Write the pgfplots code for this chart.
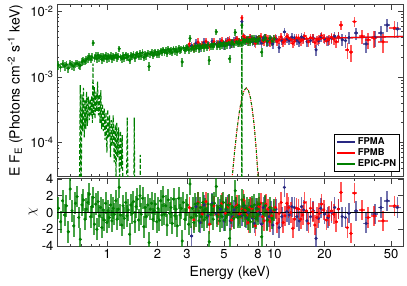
\documentclass[border=0pt]{standalone}
\usepackage{fontspec}
\setmainfont{TeX Gyre Heros}
\usepackage{pgfplots}
\usepackage{pgfplotstable}
\pgfplotsset{compat=1.18}
\definecolor{pnG}{RGB}{0,128,0}
\definecolor{fpmA}{RGB}{40,40,130}
\definecolor{fpmB}{RGB}{255,0,0}

\pgfplotstableread{
E y ey r
0.510 1.52e-3 2.2e-4 0.5
0.525 1.41e-3 2.2e-4 -1.1
0.540 1.58e-3 2.3e-4 1.4
0.555 1.47e-3 2.2e-4 -0.3
0.570 1.55e-3 2.2e-4 0.8
0.585 1.36e-3 2.2e-4 -2.3
0.600 1.60e-3 2.2e-4 2.8
0.615 1.52e-3 2.2e-4 0.2
0.630 1.46e-3 2.2e-4 -1.6
0.645 1.58e-3 2.2e-4 1.1
0.660 1.62e-3 2.2e-4 1.9
0.675 1.55e-3 2.2e-4 -0.6
0.690 1.50e-3 2.2e-4 -3.2
0.705 1.70e-3 2.3e-4 0.9
0.720 1.78e-3 2.3e-4 1.5
0.735 1.74e-3 2.3e-4 -0.8
0.750 1.86e-3 2.6e-4 0.4
0.765 1.92e-3 2.6e-4 1.2
0.780 2.05e-3 2.7e-4 2.2
0.795 1.88e-3 2.6e-4 -0.5
0.810 2.02e-3 2.7e-4 0.7
0.824 3.30e-3 3.6e-4 1.8
0.838 1.95e-3 2.6e-4 -1.4
0.852 2.10e-3 2.7e-4 1.0
0.867 1.90e-3 2.6e-4 -2.0
0.882 2.15e-3 2.7e-4 1.3
0.897 1.98e-3 2.6e-4 -0.4
0.912 2.08e-3 2.7e-4 0.6
0.928 1.85e-3 2.6e-4 -1.8
0.944 2.05e-3 2.7e-4 0.3
0.960 1.95e-3 2.6e-4 -0.9
0.977 2.12e-3 2.7e-4 1.1
0.994 1.90e-3 2.6e-4 -1.2
1.011 2.05e-3 2.6e-4 0.2
1.029 1.98e-3 2.6e-4 -0.6
1.047 2.10e-3 2.7e-4 0.9
1.066 1.92e-3 2.6e-4 -1.0
1.085 2.08e-3 2.7e-4 0.5
1.104 2.00e-3 2.6e-4 -0.2
1.124 2.15e-3 2.7e-4 1.4
1.144 1.95e-3 2.6e-4 -0.8
1.164 2.06e-3 2.7e-4 0.4
1.180 2.70e-3 3.2e-4 3.0
1.200 2.02e-3 2.6e-4 -0.3
1.222 1.92e-3 2.6e-4 -1.5
1.244 2.10e-3 2.7e-4 0.8
1.266 1.95e-3 2.6e-4 -0.7
1.289 2.18e-3 2.7e-4 1.2
1.312 2.00e-3 2.6e-4 -0.4
1.336 2.08e-3 2.7e-4 0.3
1.360 1.80e-3 2.3e-4 -2.6
1.385 2.12e-3 2.7e-4 0.9
1.410 2.05e-3 2.6e-4 -0.1
1.435 2.20e-3 2.7e-4 1.3
1.461 1.95e-3 2.6e-4 -1.1
1.487 2.15e-3 2.7e-4 0.7
1.514 2.25e-3 2.7e-4 1.6
1.541 2.05e-3 2.6e-4 -0.9
1.569 2.30e-3 2.9e-4 2.0
1.597 2.10e-3 2.7e-4 -0.2
1.626 2.35e-3 2.9e-4 1.7
1.655 2.00e-3 2.6e-4 -1.7
1.685 2.22e-3 2.7e-4 0.6
1.715 2.12e-3 2.7e-4 -0.5
1.746 2.28e-3 2.9e-4 0.9
1.780 1.45e-3 2.2e-4 -3.6
1.810 2.25e-3 2.7e-4 0.4
1.842 2.38e-3 2.9e-4 1.1
1.875 2.15e-3 2.7e-4 -0.8
1.909 2.30e-3 2.9e-4 0.2
1.943 2.42e-3 2.9e-4 1.0
1.978 2.20e-3 2.7e-4 -1.1
2.014 2.40e-3 2.9e-4 0.5
2.050 2.25e-3 2.7e-4 -0.9
2.087 2.50e-3 2.9e-4 1.4
2.124 2.35e-3 2.9e-4 -0.3
2.162 2.60e-3 3.1e-4 1.9
2.201 2.40e-3 2.9e-4 -0.2
2.241 2.55e-3 3.1e-4 0.8
2.281 2.30e-3 2.9e-4 -1.5
2.322 2.65e-3 3.1e-4 1.5
2.364 2.45e-3 2.9e-4 -0.1
2.406 2.58e-3 3.1e-4 0.6
2.449 2.35e-3 2.9e-4 -1.3
2.493 2.70e-3 3.2e-4 1.6
2.538 2.50e-3 3.1e-4 -0.4
2.584 2.62e-3 3.1e-4 0.4
2.630 2.42e-3 2.9e-4 -1.6
2.677 2.75e-3 3.2e-4 1.7
2.725 2.55e-3 3.1e-4 -0.3
2.774 2.68e-3 3.2e-4 0.5
2.810 1.70e-3 2.6e-4 -3.4
2.860 2.80e-3 3.2e-4 1.2
2.912 2.55e-3 3.1e-4 -0.8
2.964 2.72e-3 3.2e-4 0.3
3.017 2.85e-3 3.5e-4 0.9
3.071 2.60e-3 3.2e-4 -1.4
3.130 3.90e-3 4.4e-4 3.4
3.183 2.70e-3 3.2e-4 -0.6
3.240 2.88e-3 3.5e-4 0.5
3.298 2.65e-3 3.2e-4 -1.2
3.357 2.95e-3 3.6e-4 1.0
3.417 2.75e-3 3.5e-4 -0.4
3.478 3.00e-3 3.6e-4 1.1
3.541 2.70e-3 3.5e-4 -1.0
3.604 2.95e-3 3.6e-4 0.6
3.669 2.80e-3 3.5e-4 -0.5
3.735 3.05e-3 3.6e-4 1.2
3.802 2.78e-3 3.5e-4 -0.9
3.870 3.00e-3 3.6e-4 0.4
3.939 2.85e-3 3.6e-4 -0.6
4.010 3.10e-3 3.8e-4 1.0
4.080 1.80e-3 2.7e-4 -3.5
4.155 2.95e-3 3.6e-4 -0.2
4.230 3.15e-3 3.8e-4 0.9
4.306 2.90e-3 3.6e-4 -0.8
4.383 3.20e-3 3.8e-4 1.1
4.500 4.90e-3 5.5e-4 3.1
4.540 3.00e-3 3.8e-4 -0.4
4.621 3.18e-3 4.0e-4 0.6
4.704 2.95e-3 3.8e-4 -1.0
4.788 3.25e-3 4.0e-4 0.8
4.874 3.05e-3 3.8e-4 -0.5
4.961 3.30e-3 4.2e-4 1.2
5.050 3.00e-3 3.8e-4 -0.9
5.140 3.28e-3 4.2e-4 0.5
5.232 3.10e-3 4.0e-4 -0.3
5.326 3.35e-3 4.2e-4 0.9
5.400 1.90e-3 2.9e-4 -3.1
5.518 3.20e-3 4.2e-4 -0.1
5.617 3.40e-3 4.4e-4 0.7
5.717 3.15e-3 4.2e-4 -0.7
5.840 4.80e-3 5.5e-4 2.6
5.924 3.45e-3 4.4e-4 0.6
6.030 3.25e-3 4.2e-4 -0.6
6.138 3.50e-3 4.6e-4 0.8
6.247 3.30e-3 4.4e-4 -0.5
6.400 6.20e-3 6.4e-4 1.5
6.473 3.45e-3 4.6e-4 0.2
6.589 3.70e-3 4.7e-4 0.9
6.707 3.50e-3 4.6e-4 -0.4
6.827 3.75e-3 4.9e-4 0.5
6.949 3.45e-3 4.6e-4 -0.8
7.073 3.70e-3 4.9e-4 0.3
7.200 3.40e-3 4.6e-4 -1.1
7.329 3.80e-3 5.1e-4 0.7
7.460 3.55e-3 4.7e-4 -0.5
7.593 3.85e-3 5.1e-4 0.9
7.729 3.50e-3 4.7e-4 -0.7
7.867 3.75e-3 5.1e-4 0.4
8.008 3.60e-3 4.9e-4 -0.2
8.150 3.90e-3 5.3e-4 1.0
8.400 2.40e-3 3.6e-4 -2.9
8.600 3.65e-3 5.1e-4 -0.1
8.850 3.95e-3 5.5e-4 0.8
9.100 3.50e-3 5.1e-4 -0.9
9.400 3.90e-3 5.5e-4 0.6
9.700 3.55e-3 5.3e-4 -0.7
10.00 3.85e-3 5.6e-4 0.3
}\pn

\pgfplotstableread{
E y ey ex r
3.10 3.20e-3 4.9e-4 0.05 0.6
3.30 2.90e-3 4.6e-4 0.05 -0.9
3.50 3.40e-3 4.9e-4 0.05 1.2
3.70 3.10e-3 4.6e-4 0.06 -0.2
3.90 3.50e-3 4.9e-4 0.06 1.3
4.10 2.95e-3 4.5e-4 0.06 -1.4
4.35 3.45e-3 4.8e-4 0.07 0.8
4.60 3.20e-3 4.6e-4 0.07 -0.3
4.85 3.60e-3 4.9e-4 0.08 1.1
5.10 3.30e-3 4.6e-4 0.08 -0.1
5.40 3.70e-3 5.0e-4 0.08 1.0
5.70 3.35e-3 4.8e-4 0.09 -0.6
6.00 3.80e-3 5.0e-4 0.09 0.9
6.40 8.00e-3 8.4e-4 0.10 0.4
6.70 3.90e-3 5.2e-4 0.10 0.3
7.00 3.45e-3 4.8e-4 0.11 -1.2
7.35 3.80e-3 5.0e-4 0.11 0.5
7.70 3.25e-3 4.6e-4 0.12 -1.6
8.10 3.90e-3 5.2e-4 0.12 0.7
8.50 3.55e-3 4.9e-4 0.13 -0.5
8.90 4.00e-3 5.3e-4 0.14 1.0
9.40 3.40e-3 4.8e-4 0.14 -1.1
9.90 3.80e-3 5.2e-4 0.15 0.2
10.4 3.45e-3 4.9e-4 0.16 -1.3
11.0 4.10e-3 5.6e-4 0.17 1.2
11.6 3.60e-3 5.0e-4 0.18 -0.4
12.2 3.95e-3 5.5e-4 0.19 0.6
12.9 3.25e-3 4.9e-4 0.20 -1.9
13.6 4.00e-3 5.6e-4 0.21 0.5
14.4 3.55e-3 5.3e-4 0.23 -0.8
15.2 4.20e-3 5.9e-4 0.25 1.2
16.0 3.45e-3 5.3e-4 0.27 -1.3
17.0 3.90e-3 5.9e-4 0.30 0.1
18.0 3.65e-3 5.9e-4 0.33 -0.6
19.2 4.30e-3 6.4e-4 0.36 1.0
20.5 3.55e-3 6.2e-4 0.40 -0.9
22.0 4.05e-3 7.0e-4 0.45 0.2
23.5 3.45e-3 7.0e-4 0.50 -1.1
25.1 6.20e-3 9.8e-4 0.60 2.4
27.4 2.60e-3 7.0e-4 0.80 -1.8
28.8 2.40e-3 7.0e-4 0.80 -2.5
30.2 7.00e-3 1.26e-3 1.00 2.3
33.5 4.20e-3 9.8e-4 1.20 0.3
36.5 3.70e-3 9.8e-4 1.40 -0.6
39.6 3.90e-3 1.1e-3 1.60 -0.4
44.8 3.45e-3 1.1e-3 3.00 -1.0
52.4 5.60e-3 1.6e-3 3.50 0.8
5.25 3.55e-3 4.9e-4 0.08 0.6
5.55 3.25e-3 4.8e-4 0.08 -0.9
5.85 3.65e-3 5.0e-4 0.09 0.7
6.20 3.50e-3 4.9e-4 0.09 -0.2
6.55 4.20e-3 5.5e-4 0.10 1.5
6.85 3.70e-3 5.0e-4 0.10 -0.3
7.15 3.95e-3 5.2e-4 0.11 0.6
7.50 3.60e-3 4.9e-4 0.11 -0.5
7.90 3.75e-3 5.0e-4 0.12 0.2
8.30 4.10e-3 5.3e-4 0.12 1.1
8.70 3.45e-3 4.9e-4 0.13 -1.0
9.15 3.85e-3 5.2e-4 0.14 0.4
9.65 3.60e-3 5.0e-4 0.14 -0.4
10.15 3.95e-3 5.3e-4 0.15 0.6
10.7 3.70e-3 5.2e-4 0.16 -0.1
11.3 3.40e-3 5.0e-4 0.17 -1.2
11.9 4.15e-3 5.6e-4 0.18 1.1
12.55 3.75e-3 5.5e-4 0.19 0.0
13.25 3.50e-3 5.3e-4 0.20 -0.8
14.0 3.95e-3 5.6e-4 0.21 0.4
14.8 3.70e-3 5.6e-4 0.23 -0.3
15.6 3.85e-3 5.7e-4 0.25 0.2
16.5 4.00e-3 6.0e-4 0.27 0.5
17.5 3.35e-3 5.7e-4 0.30 -1.5
18.6 3.80e-3 6.0e-4 0.33 -0.1
19.8 3.95e-3 6.3e-4 0.36 0.3
21.2 3.70e-3 6.6e-4 0.40 -0.4
22.7 3.80e-3 7.0e-4 0.45 -0.2
24.2 4.10e-3 7.6e-4 0.50 0.4
}\fpmb

\pgfplotstableread{
E y ey ex r
3.20 3.00e-3 4.8e-4 0.05 -2.8
3.40 3.30e-3 4.9e-4 0.05 0.7
3.60 2.90e-3 4.6e-4 0.05 -1.2
3.80 3.40e-3 4.9e-4 0.06 0.9
4.00 3.10e-3 4.6e-4 0.06 -0.4
4.25 3.50e-3 4.9e-4 0.07 1.1
4.50 3.20e-3 4.6e-4 0.07 -0.2
4.75 3.40e-3 4.8e-4 0.07 0.4
5.00 3.05e-3 4.6e-4 0.08 -1.0
5.30 3.60e-3 4.9e-4 0.08 0.9
5.60 3.30e-3 4.8e-4 0.09 -0.5
5.90 3.70e-3 5.0e-4 0.09 0.6
6.40 7.00e-3 7.7e-4 0.10 -0.4
6.80 3.60e-3 5.0e-4 0.10 -0.6
7.20 4.00e-3 5.3e-4 0.11 0.7
7.60 3.35e-3 4.8e-4 0.12 -1.3
8.00 3.70e-3 5.0e-4 0.12 0.1
8.40 3.30e-3 4.8e-4 0.13 -1.4
8.80 3.95e-3 5.3e-4 0.14 0.8
9.30 3.50e-3 4.9e-4 0.14 -0.5
9.80 3.20e-3 4.8e-4 0.15 -1.5
10.7 2.80e-3 4.6e-4 0.16 -1.8
11.5 4.90e-3 6.3e-4 0.18 3.0
12.3 3.60e-3 5.3e-4 0.19 -0.3
13.2 4.00e-3 5.6e-4 0.20 0.6
14.1 3.40e-3 5.2e-4 0.22 -1.0
15.0 3.90e-3 5.7e-4 0.24 0.3
16.5 3.60e-3 5.6e-4 0.28 -0.5
17.8 2.60e-3 5.3e-4 0.30 -3.1
19.0 4.10e-3 6.4e-4 0.35 0.5
21.0 3.60e-3 6.4e-4 0.40 -0.6
23.0 4.20e-3 7.3e-4 0.45 0.6
25.5 3.70e-3 7.7e-4 0.55 -0.5
28.0 4.00e-3 8.4e-4 0.65 -0.1
30.9 4.70e-3 9.8e-4 0.80 0.2
35.5 3.20e-3 9.1e-4 1.50 -1.3
40.0 4.00e-3 1.1e-3 1.80 -0.2
43.5 4.70e-3 1.3e-3 1.90 0.6
47.5 6.20e-3 1.4e-3 2.00 1.4
54.6 5.40e-3 1.5e-3 3.00 0.6
5.15 3.45e-3 4.8e-4 0.08 0.4
5.45 3.15e-3 4.6e-4 0.08 -1.0
5.75 3.55e-3 4.9e-4 0.09 0.3
6.10 3.40e-3 4.9e-4 0.09 -0.4
6.60 3.95e-3 5.3e-4 0.10 0.8
7.00 3.75e-3 5.0e-4 0.11 0.0
7.40 3.50e-3 4.9e-4 0.11 -0.7
7.80 3.85e-3 5.2e-4 0.12 0.5
8.20 3.60e-3 5.0e-4 0.12 -0.2
8.60 3.90e-3 5.3e-4 0.13 0.6
9.05 3.40e-3 4.9e-4 0.14 -0.9
9.55 3.75e-3 5.2e-4 0.14 0.2
10.25 3.85e-3 5.3e-4 0.15 0.4
11.1 3.55e-3 5.2e-4 0.17 -0.5
11.9 3.80e-3 5.5e-4 0.18 0.1
12.75 4.05e-3 5.7e-4 0.19 0.7
13.65 3.60e-3 5.5e-4 0.21 -0.5
14.55 4.10e-3 5.9e-4 0.23 0.7
15.7 3.45e-3 5.6e-4 0.26 -1.0
17.1 3.95e-3 6.0e-4 0.30 0.2
18.4 3.55e-3 6.0e-4 0.33 -0.7
20.0 3.80e-3 6.4e-4 0.38 -0.2
22.0 3.90e-3 7.0e-4 0.43 0.0
24.2 4.15e-3 7.7e-4 0.50 0.4
26.7 3.60e-3 8.1e-4 0.60 -0.6
}\fpma

\begin{document}
\begin{tikzpicture}
\useasboundingbox (0pt,0pt) rectangle (407pt,285pt);
\begin{axis}[name=top, at={(57pt,280.3pt)}, anchor=north west,
  scale only axis, width=346pt, height=171.8pt,
  xmode=log, ymode=log, xmin=0.5, xmax=59, ymin=3.03e-5, ymax=1.27e-2,
  xtick={1,2,3,5,8,10,20,50}, xticklabels={},
  minor xtick={0.6,0.7,0.8,0.9,4,6,7,9,30,40},
  tick align=inside, major tick length=5pt, minor tick length=2.5pt,
  axis line style={black!75, line width=1pt},
  tick style={black!75, line width=0.8pt},
  ticklabel style={font=\fontsize{13}{15}\selectfont},
  label style={font=\fontsize{14}{16}\selectfont},
  ytick={1e-4,1e-3,1e-2},
  yticklabels={10\textsuperscript{-4},10\textsuperscript{-3},10\textsuperscript{-2}},
  minor ytick={4e-5,5e-5,6e-5,7e-5,8e-5,9e-5,2e-4,3e-4,4e-4,5e-4,6e-4,7e-4,8e-4,9e-4,2e-3,3e-3,4e-3,5e-3,6e-3,7e-3,8e-3,9e-3},
  ylabel={E F\textsubscript{E} (Photons cm\textsuperscript{-2} s\textsuperscript{-1} keV)},
  ylabel style={at={(axis description cs:-0.121,0.5)}, anchor=center},
  legend style={at={(rel axis cs:1,0)}, anchor=south east, xshift=-3pt, yshift=4.5pt,
    font=\bfseries\fontsize{9.4}{11}\selectfont, draw=black, line width=0.8pt,
    inner sep=1.5pt, row sep=-1.5pt},
  legend cell align=left,
  legend image code/.code={\draw[#1, line width=1.6pt] (0pt,0pt) -- (18pt,0pt);},
]
\addlegendimage{fpmA}\addlegendentry{FPMA}
\addlegendimage{fpmB}\addlegendentry{FPMB}
\addlegendimage{pnG}\addlegendentry{EPIC-PN}
\addplot[pnG, line width=1.1pt, dash pattern=on 4pt off 2pt, forget plot] coordinates {
(0.680,1e-5)(0.689,7.5e-4)(0.697,1e-5)(0.705,5.5e-4)(0.712,1.5e-4)(0.720,6.8e-4)
(0.728,1.2e-4)(0.736,4.5e-4)(0.744,1.6e-4)(0.752,6.0e-4)(0.760,1.8e-4)(0.770,5.0e-4)
(0.780,2.2e-4)(0.790,4.6e-4)(0.800,2.6e-4)(0.808,5.2e-4)(0.815,2.0e-4)(0.821,1.6e-3)
(0.828,2.6e-4)(0.836,7.0e-4)(0.845,2.3e-4)(0.855,6.0e-4)(0.865,3.0e-4)(0.875,8.5e-4)
(0.885,2.6e-4)(0.895,5.5e-4)(0.905,2.0e-4)(0.915,6.3e-4)(0.925,1.6e-4)(0.937,3.9e-4)
(0.947,1.5e-4)(0.959,3.3e-4)(0.970,1.1e-4)(0.982,2.9e-4)(0.995,7e-5)(1.007,3.2e-4)
(1.020,1.2e-4)(1.033,2.6e-4)(1.045,6e-5)(1.058,2.2e-4)(1.070,9e-5)(1.085,2.6e-4)
(1.100,5e-5)(1.115,1.9e-4)(1.128,3e-5)(1.140,2.0e-4)(1.155,6e-5)(1.170,1.7e-4)
(1.185,2e-5)(1.200,1.5e-4)(1.215,4e-5)(1.229,1.3e-4)(1.245,1e-5)(1.30,1e-5)
(1.317,2.4e-4)(1.335,1e-5)(1.440,1e-5)(1.451,2.4e-4)(1.462,1e-5)(1.570,1e-5)
(1.576,6.5e-5)(1.582,1e-5)};
\addplot[fpmB, line width=1pt, densely dotted, forget plot] coordinates {
(5.4,9.7e-6)(5.6,2.99e-5)(5.8,7.76e-5)(6.0,1.70e-4)(6.2,3.11e-4)(6.4,4.81e-4)(6.6,6.24e-4)(6.8,6.8e-4)
(7.0,6.24e-4)(7.2,4.81e-4)(7.4,3.11e-4)(7.6,1.70e-4)(7.8,7.76e-5)(8.0,2.99e-5)(8.2,9.7e-6)};
\addplot[pnG, line width=1pt, dash pattern=on 3pt off 3pt, forget plot] coordinates {
(5.4,9.7e-6)(5.6,2.99e-5)(5.8,7.76e-5)(6.0,1.70e-4)(6.2,3.11e-4)(6.4,4.81e-4)(6.6,6.24e-4)(6.8,6.8e-4)
(7.0,6.24e-4)(7.2,4.81e-4)(7.4,3.11e-4)(7.6,1.70e-4)(7.8,7.76e-5)(8.0,2.99e-5)(8.2,9.7e-6)};
\addplot[pnG, line width=1.3pt, dash pattern=on 4pt off 2pt, forget plot] coordinates {(6.385,1e-5)(6.40,6.5e-3)(6.415,1e-5)};
\addplot[only marks, mark=*, mark size=1.4pt, color=fpmA, forget plot,
    error bars/y dir=both, error bars/y explicit, error bars/x dir=both, error bars/x explicit,
    error bars/error mark=none, error bars/error bar style={line width=1.6pt, opacity=0.65}]
    table[x=E, y=y, x error=ex, y error=ey] {\fpma};
\addplot[only marks, mark=*, mark size=1.4pt, color=fpmB, forget plot,
    error bars/y dir=both, error bars/y explicit, error bars/x dir=both, error bars/x explicit,
    error bars/error mark=none, error bars/error bar style={line width=1.6pt, opacity=0.65}]
    table[x=E, y=y, x error=ex, y error=ey] {\fpmb};
\addplot[fpmA, line width=1.3pt, forget plot] coordinates {
(3,2.95e-3)(4,3.1e-3)(5,3.25e-3)(6,3.45e-3)(6.5,3.75e-3)(6.8,3.95e-3)(7.2,3.85e-3)(7.6,3.7e-3)
(8,3.6e-3)(10,3.7e-3)(15,3.82e-3)(20,3.9e-3)(30,4.0e-3)(40,4.07e-3)(50,4.12e-3)(59,4.15e-3)};
\addplot[fpmB, line width=1.3pt, forget plot] coordinates {
(3,2.95e-3)(4,3.1e-3)(5,3.25e-3)(6,3.45e-3)(6.5,3.75e-3)(6.8,3.95e-3)(7.2,3.85e-3)(7.6,3.7e-3)
(8,3.6e-3)(10,3.7e-3)(15,3.82e-3)(20,3.9e-3)(30,4.0e-3)(40,4.07e-3)(50,4.12e-3)(59,4.15e-3)};
\addplot[only marks, mark=*, mark size=1.4pt, color=pnG, forget plot,
    error bars/y dir=both, error bars/y explicit,
    error bars/error mark=none, error bars/error bar style={line width=1.9pt, opacity=0.7}]
    table[x=E, y=y, y error=ey] {\pn};
\end{axis}

\begin{axis}[name=bot, at={(57pt,39pt)}, anchor=south west,
  scale only axis, width=346pt, height=67pt,
  xmode=log, xmin=0.5, xmax=59, ymin=-4, ymax=4,
  xtick={1,2,3,5,8,10,20,50}, xticklabels={1,2,3,5,8,10,20,50},
  minor xtick={0.6,0.7,0.8,0.9,4,6,7,9,30,40},
  tick align=inside, major tick length=5pt, minor tick length=2.5pt,
  axis line style={black!75, line width=1pt},
  tick style={black!75, line width=0.8pt},
  ticklabel style={font=\fontsize{13}{15}\selectfont},
  label style={font=\fontsize{14}{16}\selectfont},
  ytick={-4,-2,0,2,4}, yticklabels={-4,-2,0,2,4},
  xlabel={Energy (keV)},
  xlabel style={at={(axis description cs:0.5,-0.403)}, anchor=center},
  ylabel={$\chi$},
  ylabel style={at={(axis description cs:-0.069,0.5)}, anchor=center},
]
\addplot[only marks, mark=*, mark size=1.4pt, color=fpmA, forget plot,
    error bars/y dir=both, error bars/y explicit, error bars/x dir=both, error bars/x explicit,
    error bars/error mark=none, error bars/error bar style={line width=1.6pt, opacity=0.65}]
    table[x=E, y=r, x error=ex, y error expr=1.2] {\fpma};
\addplot[only marks, mark=*, mark size=1.4pt, color=fpmB, forget plot,
    error bars/y dir=both, error bars/y explicit, error bars/x dir=both, error bars/x explicit,
    error bars/error mark=none, error bars/error bar style={line width=1.6pt, opacity=0.65}]
    table[x=E, y=r, x error=ex, y error expr=1.2] {\fpmb};
\addplot[only marks, mark=*, mark size=1.4pt, color=pnG, forget plot,
    error bars/y dir=both, error bars/y explicit,
    error bars/error mark=none, error bars/error bar style={line width=2pt, opacity=0.72}]
    table[x=E, y=r, y error expr=1.3] {\pn};
\addplot[black, line width=1.5pt, forget plot] coordinates {(0.5,0)(59,0)};
\end{axis}
\end{tikzpicture}
\end{document}
